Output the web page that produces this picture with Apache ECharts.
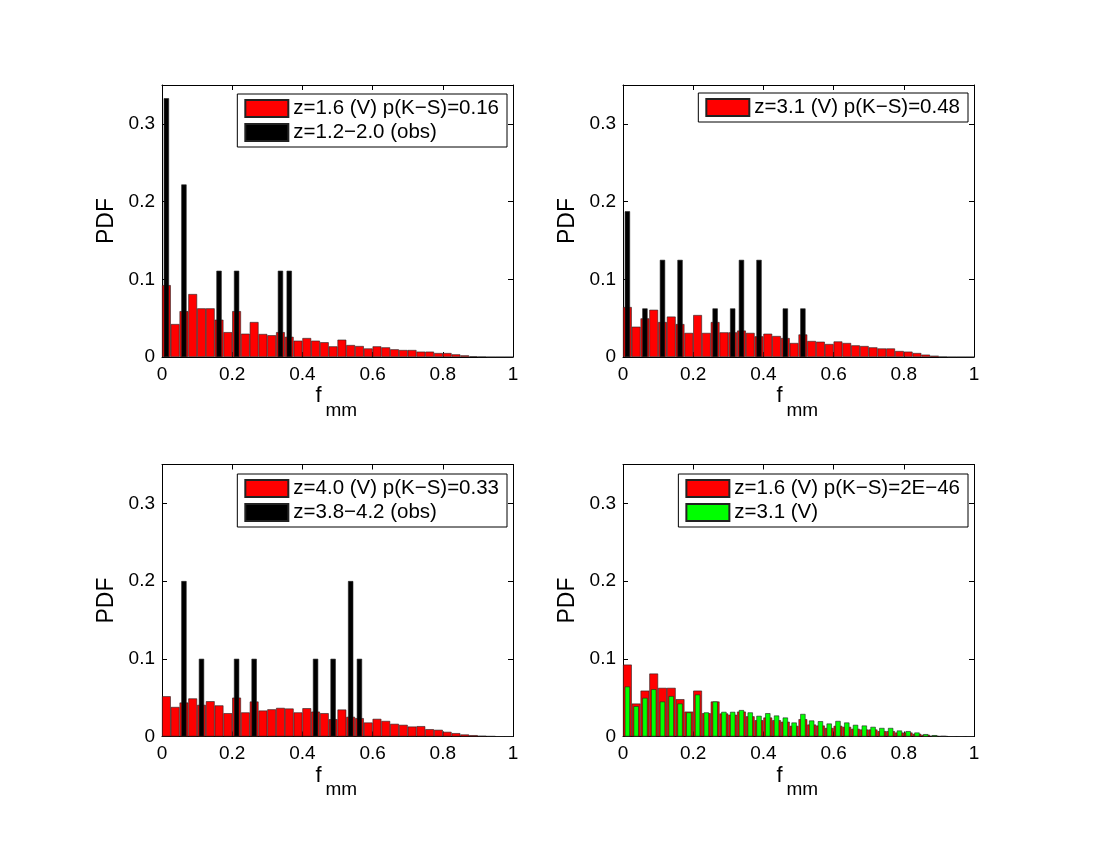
<!DOCTYPE html>
<html><head><meta charset="utf-8">
<script src="https://cdn.jsdelivr.net/npm/echarts@6/dist/echarts.min.js"></script>
<style>html,body{margin:0;padding:0;background:#fff}#c{width:1100px;height:850px}</style>
</head><body><div id="c"></div>
<script>
// bin centres of the 40-bin histogram (bin width 0.025)
const binCenters = [0.0125,0.0375,0.0625,0.0875,0.1125,0.1375,0.1625,0.1875,0.2125,0.2375,
  0.2625,0.2875,0.3125,0.3375,0.3625,0.3875,0.4125,0.4375,0.4625,0.4875,
  0.5125,0.5375,0.5625,0.5875,0.6125,0.6375,0.6625,0.6875,0.7125,0.7375,
  0.7625,0.7875,0.8125,0.8375,0.8625,0.8875,0.9125,0.9375,0.9625,0.9875];
const xTicks = [0, 0.2, 0.4, 0.6, 0.8, 1];
const yTicks = [0, 0.1, 0.2, 0.3];

// panel 1: z=1.6 model vs z=1.2-2.0 observations
const p1Model = [0.0925,0.0424,0.059,0.081,0.0626,0.0626,0.048,0.032,0.059,0.030,
  0.045,0.0296,0.028,0.032,0.026,0.021,0.0244,0.021,0.019,0.0137,
  0.0223,0.0154,0.0141,0.011,0.0137,0.0124,0.0099,0.009,0.009,0.0069,
  0.0069,0.0051,0.0051,0.0034,0.0021,0.0009,0.0004,0,0,0];
const p1ObsX = [0.0125,0.0625,0.1625,0.2125,0.3375,0.3625];
const p1ObsY = [0.333,0.222,0.111,0.111,0.111,0.111];

// panel 2: z=3.1 model vs observations
const p2Model = [0.0643,0.039,0.0497,0.0608,0.045,0.052,0.0424,0.031,0.054,0.031,
  0.045,0.0317,0.0317,0.034,0.031,0.0266,0.030,0.027,0.0244,0.018,
  0.029,0.0206,0.0197,0.0167,0.020,0.018,0.015,0.0141,0.0124,0.011,
  0.011,0.0077,0.0069,0.0051,0.003,0.0017,0.0004,0,0,0];
const p2ObsX = [0.0125,0.0625,0.1125,0.1625,0.2625,0.3125,0.3375,0.3875,0.4625,0.5125];
const p2ObsY = [0.1875,0.0625,0.125,0.125,0.0625,0.0625,0.125,0.125,0.0625,0.0625];

// panel 3: z=4.0 model vs z=3.8-4.2 observations
const p3Model = [0.0518,0.038,0.0437,0.049,0.0407,0.0454,0.040,0.030,0.050,0.031,
  0.045,0.0334,0.035,0.0368,0.036,0.031,0.0364,0.032,0.030,0.0223,
  0.0347,0.0253,0.0236,0.018,0.0227,0.020,0.0163,0.015,0.0128,0.0133,
  0.0094,0.0086,0.006,0.0043,0.0026,0.0017,0.0009,0.0004,0,0];
const p3ObsX = [0.0625,0.1125,0.2125,0.2625,0.4375,0.4875,0.5375,0.5625];
const p3ObsY = [0.2,0.1,0.1,0.1,0.1,0.1,0.2,0.1];

// panel 4: z=1.6 model (red) vs z=3.1 model (green)
const p4Red = p1Model;
const p4Green = p2Model;

const names = [
  ['z=1.6 (V) p(K\u2212S)=0.16', 'z=1.2\u22122.0 (obs)'],
  ['z=3.1 (V) p(K\u2212S)=0.48', '(obs) '],
  ['z=4.0 (V) p(K\u2212S)=0.33', 'z=3.8\u22124.2 (obs)'],
  ['z=1.6 (V) p(K\u2212S)=2E\u221246', 'z=3.1 (V)']
];
const legendShown = [[0,1],[0],[0,1],[0,1]];
const xNameMain = 'f';
const xNameSub = 'mm';
const yName = 'PDF';

const FONT = "'Liberation Sans', Arial, Helvetica, sans-serif";
const grids = [
  {left:162, top:85, width:351, height:272},
  {left:623, top:85, width:351, height:272},
  {left:162, top:464.5, width:351, height:272},
  {left:623, top:464.5, width:351, height:272}
];
const legendPos = [
  {right:593, top:94}, {right:132, top:93}, {right:593, top:474}, {right:132, top:474}
];
const wideW = 351 / binCenters.length;
const narrowW = wideW * 0.6;

const panels = [
  {wideX: binCenters, wideY: p1Model, narX: p1ObsX, narY: p1ObsY, narColor:'#000000'},
  {wideX: binCenters, wideY: p2Model, narX: p2ObsX, narY: p2ObsY, narColor:'#000000'},
  {wideX: binCenters, wideY: p3Model, narX: p3ObsX, narY: p3ObsY, narColor:'#000000'},
  {wideX: binCenters, wideY: p4Red, narX: binCenters, narY: p4Green, narColor:'#00ff00'}
];

const axLine = {show:true, onZero:false, lineStyle:{color:'#000', width:1}};
const axTick = {show:true, inside:true, length:5, lineStyle:{color:'#000', width:1}};

const option = {
  animation:false,
  backgroundColor:'#fff',
  grid: grids,
  xAxis: [], yAxis: [], series: [], legend: [], graphic: []
};

panels.forEach((p, i) => {
  const g = grids[i];
  option.xAxis.push({
    gridIndex:i, type:'value', min:xTicks[0], max:xTicks[xTicks.length-1], interval:xTicks[1]-xTicks[0],
    position:'bottom', axisLine:axLine, axisTick:axTick, splitLine:{show:false},
    axisLabel:{fontSize:19, color:'#000', margin:8, fontFamily:FONT}
  });
  option.xAxis.push({
    gridIndex:i, type:'value', min:xTicks[0], max:xTicks[xTicks.length-1], interval:xTicks[1]-xTicks[0],
    position:'top', axisLine:axLine, axisTick:axTick, splitLine:{show:false}, axisLabel:{show:false}
  });
  option.yAxis.push({
    gridIndex:i, type:'value', min:0, max:0.35, interval:yTicks[1]-yTicks[0],
    position:'left', axisLine:axLine, axisTick:axTick, splitLine:{show:false},
    axisLabel:{fontSize:19, color:'#000', margin:7, fontFamily:FONT, showMaxLabel:false,
      formatter: v => (yTicks.some(t => Math.abs(t - v) < 1e-9) ? String(+v.toFixed(2)) : '')},
    name:yName, nameLocation:'middle', nameGap:44,
    nameTextStyle:{fontSize:23, color:'#000', fontFamily:FONT}
  });
  option.yAxis.push({
    gridIndex:i, type:'value', min:0, max:0.35, interval:yTicks[1]-yTicks[0],
    position:'right', axisLine:axLine, axisTick:axTick, splitLine:{show:false}, axisLabel:{show:false}
  });
  option.series.push({
    name:names[i][0], type:'bar', xAxisIndex:2*i, yAxisIndex:2*i,
    data:p.wideX.map((x,k) => [x, p.wideY[k]]), barWidth:wideW, z:2,
    itemStyle:{color:'#ff0000', borderColor:'#222', borderWidth:0.6}
  });
  option.series.push({
    name:names[i][1], type:'bar', xAxisIndex:2*i+1, yAxisIndex:2*i,
    data:p.narX.map((x,k) => [x, p.narY[k]]), barWidth:narrowW, z:3,
    itemStyle:{color:p.narColor, borderColor:'#222', borderWidth:0.6}
  });
  option.legend.push({
    data: legendShown[i].map(j => names[i][j]),
    orient:'vertical', right:legendPos[i].right, top:legendPos[i].top,
    itemWidth:43, itemHeight:17, itemGap:3, selectedMode:false,
    padding:[4,8,4,7], borderColor:'#000', borderWidth:1, backgroundColor:'#fff',
    textStyle:{fontSize:20.5, color:'#000', fontFamily:FONT},
    icon:'rect'
  });
  // x-axis title: "f" with subscript "mm"
  const cx = g.left + g.width / 2;
  const by = g.top + g.height;
  option.graphic.push({
    type:'text', x: cx - 22, y: by + 50, z:10,
    style:{ text: xNameMain, fill:'#000', font: '22px ' + FONT, align:'left', verticalAlign:'bottom' }
  });
  option.graphic.push({
    type:'text', x: cx - 12, y: by + 63, z:10,
    style:{ text: xNameSub, fill:'#000', font: '19px ' + FONT, align:'left', verticalAlign:'bottom' }
  });
});

const chart = echarts.init(document.getElementById('c'), null, {renderer:'canvas'});
chart.setOption(option);
</script>
</body></html>
